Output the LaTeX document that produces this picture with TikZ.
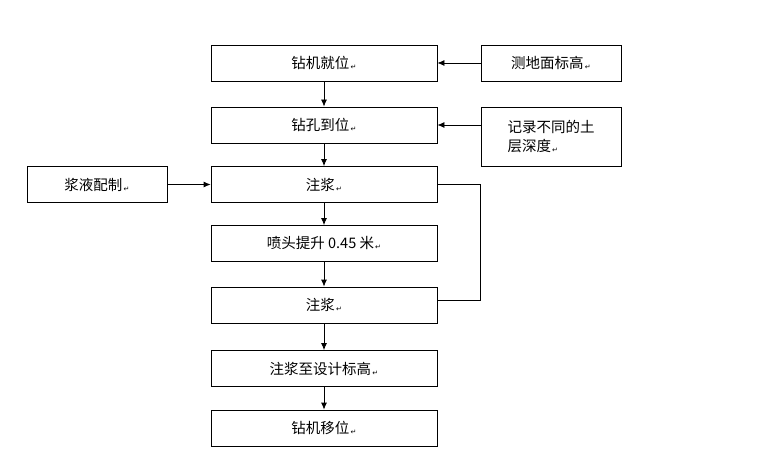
\documentclass[tikz,border=0pt]{standalone}
\usepackage{fontspec}
\usetikzlibrary{arrows.meta}
\newfontfamily\cjk{Noto Sans CJK SC}
\newfontfamily\dv{DejaVu Sans}
\newcommand{\rmk}{{\dv\fontsize{7}{7}\selectfont\,\raisebox{-1pt}{↵}}}
\begin{document}
\begin{tikzpicture}[x=1pt,y=-1pt,
 box/.style={draw,line width=0.8pt,minimum height=36pt,inner sep=0pt,font=\cjk\fontsize{14.5}{19}\selectfont},
 arr/.style={-{Latex[length=7pt,width=6pt]},line width=0.8pt}]
\useasboundingbox (0,0) rectangle (760,468);
\node[box,minimum width=226pt] (a) at (324,63) {钻机就位\rmk};
\node[box,minimum width=226pt] (b) at (324,125) {钻孔到位\rmk};
\node[box,minimum width=226pt] (c) at (324,184.5) {注浆\rmk};
\node[box,minimum width=226pt] (d) at (324,243.5) {喷头提升 0.45 米\rmk};
\node[box,minimum width=226pt] (e) at (324,305) {注浆\rmk};
\node[box,minimum width=226pt] (f) at (324,368.5) {注浆至设计标高\rmk};
\node[box,minimum width=226pt] (g) at (324,428) {钻机移位\rmk};
\node[box,minimum width=140pt] (r1) at (551,63) {测地面标高\rmk};
\node[box,minimum width=140pt,minimum height=59pt,align=left] (r2) at (551,136.5) {记录不同的土\\层深度\rmk};
\node[box,minimum width=140pt] (l) at (97,184.5) {浆液配制\rmk};
\draw[arr] (a) -- (b);
\draw[arr] (b) -- (c);
\draw[arr] (c) -- (d);
\draw[arr] (d) -- (e);
\draw[arr] (e) -- (f);
\draw[arr] (f) -- (g);
\draw[arr] (r1) -- (a);
\draw[arr] (r2.west |- b) -- (b);
\draw[arr] (l) -- (c);
\draw[line width=0.8pt] (c.east) -- (480,184.5) -- (480,300) -- (e.east |- 0,300);
\end{tikzpicture}
\end{document}
